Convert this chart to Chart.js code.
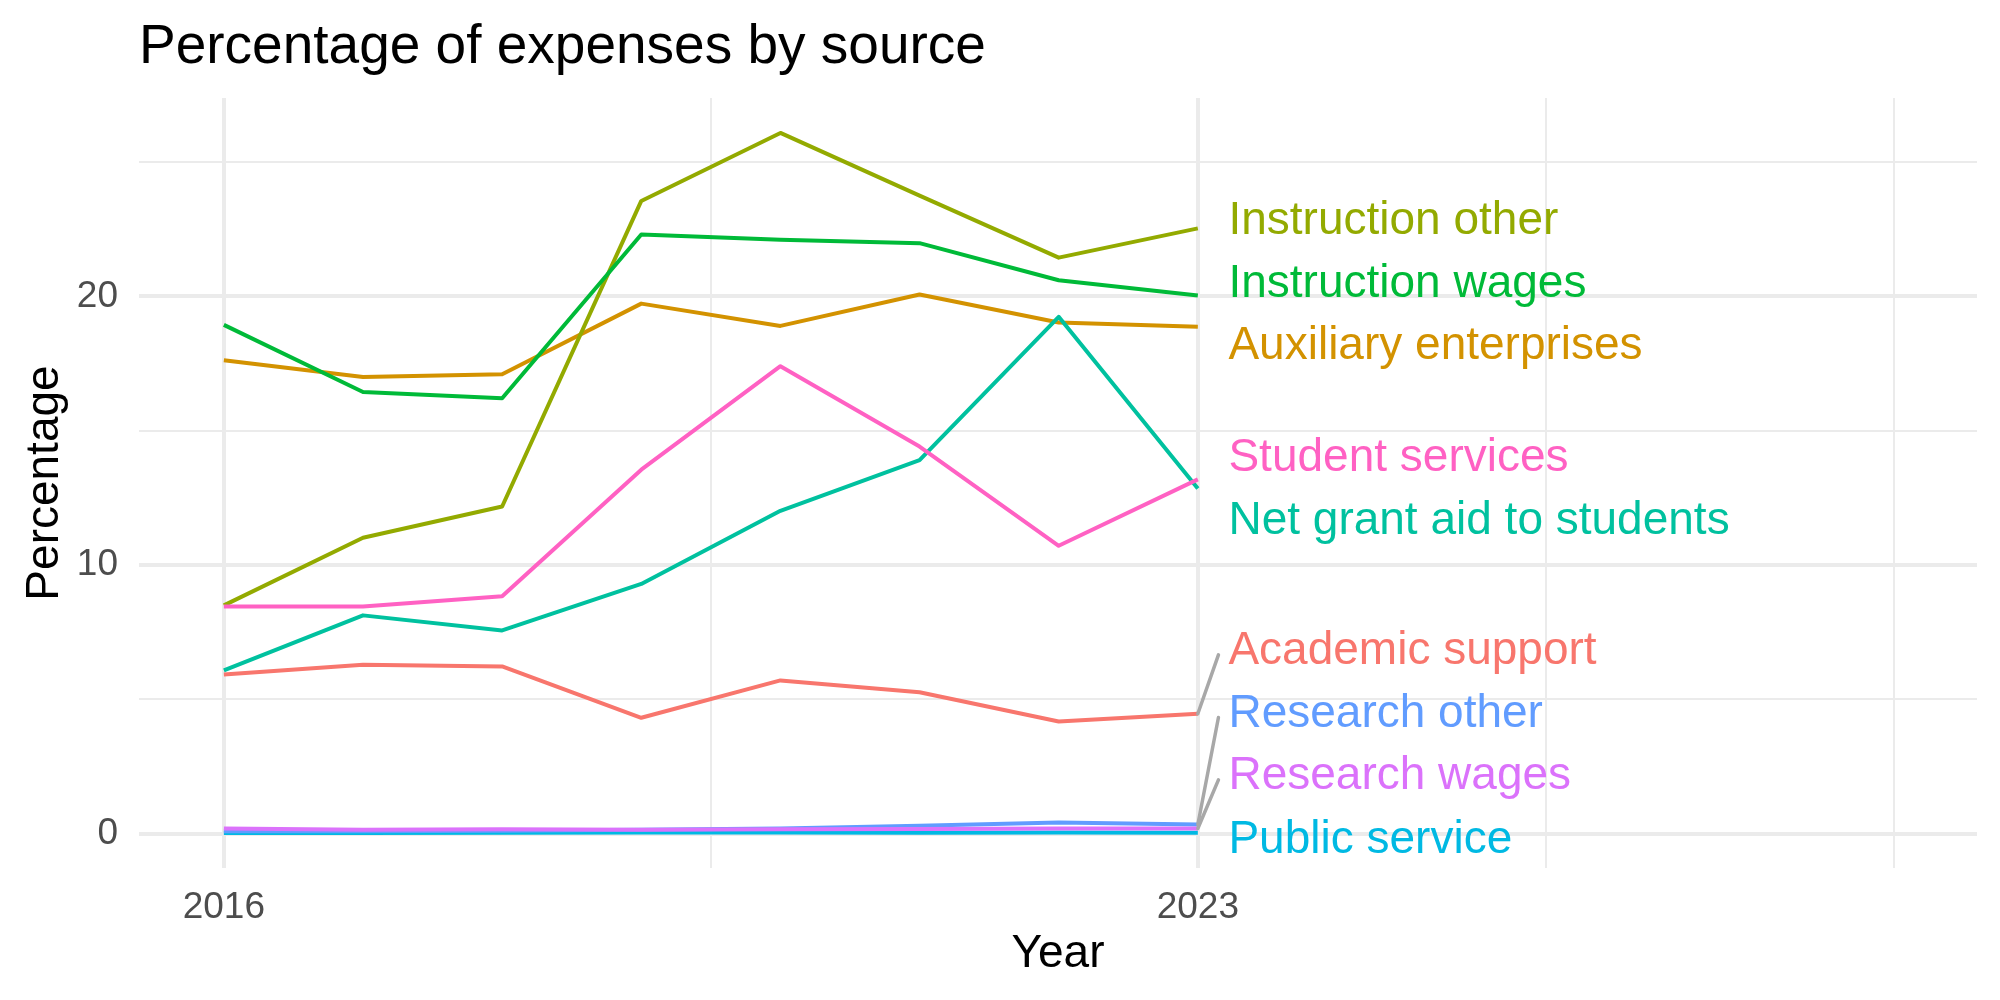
<!DOCTYPE html>
<html>
<head>
<meta charset="utf-8">
<title>Percentage of expenses by source</title>
<script src="https://cdn.jsdelivr.net/npm/chart.js@4.4.1/dist/chart.umd.min.js"></script>
<style>
    html, body { margin: 0; padding: 0; background: #ffffff; }
    #myLineChart { display: block; }
</style>
</head>
<body>
<canvas id="myLineChart" width="2000" height="1000"></canvas>
<script>

var years = [2016, 2017, 2018, 2019, 2020, 2021, 2022, 2023];

var sources = [
    'Academic support',
    'Auxiliary enterprises',
    'Instruction other',
    'Instruction wages',
    'Net grant aid to students',
    'Public service',
    'Research other',
    'Research wages',
    'Student services'
];

var academicSupport      = [5.93, 6.29, 6.23, 4.32, 5.71, 5.27, 4.18, 4.47];
var auxiliaryEnterprises = [17.62, 17.0, 17.1, 19.73, 18.9, 20.07, 19.03, 18.87];
var instructionOther     = [8.5, 11.02, 12.18, 23.55, 26.08, 23.75, 21.44, 22.53];
var instructionWages     = [18.94, 16.44, 16.21, 22.3, 22.11, 21.98, 20.6, 20.03];
var netGrantAid          = [6.08, 8.13, 7.57, 9.3, 12.02, 13.91, 19.24, 12.85];
var publicService        = [0.03, 0.03, 0.04, 0.05, 0.05, 0.04, 0.05, 0.04];
var researchOther        = [0.1, 0.1, 0.12, 0.15, 0.2, 0.3, 0.42, 0.35];
var researchWages        = [0.2, 0.15, 0.17, 0.15, 0.17, 0.18, 0.2, 0.2];
var studentServices      = [8.46, 8.46, 8.84, 13.55, 17.4, 14.41, 10.72, 13.19];

var seriesValues = [
    academicSupport, auxiliaryEnterprises, instructionOther, instructionWages,
    netGrantAid, publicService, researchOther, researchWages, studentServices
];

// where the repelled labels ended up (value axis), same order as sources
var labelY = [6.92, 18.29, 22.95, 20.6, 11.78, -0.1, 4.59, 2.27, 14.12];
var labelX = 2023.22;

var xTickValues = [2016, 2019.5, 2023, 2025.5, 2028];
var xTickLabels = ['2016', '', '2023', '', ''];
var yTickValues = [0, 5, 10, 15, 20, 25];
var yTickLabels = ['0', '', '10', '', '20', ''];

var colors = ['#F8766D', '#D39200', '#93AA00', '#00BA38', '#00C19F', '#00B9E3', '#619CFF', '#DB72FB', '#FF61C3'];

var fontFamily = '"Liberation Sans", Arial, sans-serif';
Chart.defaults.font.family = fontFamily;

var isMajor = function(ctx, labels) {
    return ctx.tick && labels[ctx.index] !== '';
};

var repelLabels = {
    id: 'repelLabels',
    afterDatasetsDraw: function(chart) {
        var ctx = chart.ctx;
        var xs = chart.scales.x;
        var ys = chart.scales.y;
        var last = years.length - 1;
        var lx = xs.getPixelForValue(labelX);

        ctx.save();
        ctx.font = '46px ' + fontFamily;
        ctx.textBaseline = 'alphabetic';
        ctx.textAlign = 'left';
        sources.forEach(function(name, i) {
            var px = xs.getPixelForValue(years[last]);
            var py = ys.getPixelForValue(seriesValues[i][last]);
            var ly = ys.getPixelForValue(labelY[i]);
            if (Math.abs(ly - py) > 40) {
                ctx.beginPath();
                ctx.strokeStyle = '#A8A8A8';
                ctx.lineWidth = 3.5;
                ctx.lineCap = 'round';
                ctx.moveTo(px, py);
                ctx.lineTo(lx - 10, ly + 7);
                ctx.stroke();
            }
            ctx.fillStyle = colors[i];
            ctx.fillText(name, lx, ly + 16.5);
        });
        ctx.restore();
    }
};

var titles = {
    id: 'titles',
    afterDraw: function(chart) {
        var ctx = chart.ctx;
        var area = chart.chartArea;
        ctx.save();
        ctx.fillStyle = '#000000';
        ctx.textBaseline = 'alphabetic';

        ctx.font = '55px ' + fontFamily;
        ctx.textAlign = 'left';
        ctx.fillText('Percentage of expenses by source', area.left, 63);

        ctx.font = '46px ' + fontFamily;
        ctx.textAlign = 'center';
        ctx.fillText('Year', (area.left + area.right) / 2, 967);

        ctx.translate(58, (area.top + area.bottom) / 2);
        ctx.rotate(-Math.PI / 2);
        ctx.fillText('Percentage', 0, 0);
        ctx.restore();
    }
};

var lineChartData = {
    datasets: sources.map(function(name, i) {
        return {
            label: name,
            data: years.map(function(yr, j) {
                return {x: yr, y: seriesValues[i][j]};
            }),
            borderColor: colors[i],
            backgroundColor: colors[i],
            borderWidth: 4,
            borderJoinStyle: 'round',
            pointRadius: 0,
            tension: 0,
            fill: false,
            order: sources.length - i // later groups on top, as in ggplot
        };
    })
};

var lineChartOptions = {
    responsive: false,
    animation: false,
    layout: {
        padding: {top: 98, right: 23, bottom: 0, left: 0}
    },
    plugins: {
        legend: {display: false},
        tooltip: {enabled: false}
    },
    scales: {
        x: {
            type: 'linear',
            min: 2015.39,
            max: 2028.6,
            afterBuildTicks: function(scale) {
                scale.ticks = xTickValues.map(function(v) { return {value: v}; });
            },
            afterFit: function(scale) {
                scale.height = 132;
            },
            ticks: {
                autoSkip: false,
                maxRotation: 0,
                padding: 18,
                color: '#4D4D4D',
                font: {size: 37},
                callback: function(value, index) {
                    return xTickLabels[index];
                }
            },
            grid: {
                color: '#EBEBEB',
                drawTicks: false,
                lineWidth: function(ctx) {
                    return isMajor(ctx, xTickLabels) ? 4 : 2;
                }
            },
            border: {display: false}
        },
        y: {
            min: -1.27,
            max: 27.38,
            afterBuildTicks: function(scale) {
                scale.ticks = yTickValues.map(function(v) { return {value: v}; });
            },
            afterFit: function(scale) {
                scale.width = 139;
            },
            ticks: {
                autoSkip: false,
                padding: 21,
                color: '#4D4D4D',
                font: {size: 37},
                callback: function(value, index) {
                    return yTickLabels[index];
                }
            },
            grid: {
                color: '#EBEBEB',
                drawTicks: false,
                lineWidth: function(ctx) {
                    return isMajor(ctx, yTickLabels) ? 4 : 2;
                }
            },
            border: {display: false}
        }
    }
};

var ctx = document.getElementById('myLineChart').getContext('2d');
new Chart(ctx, {
    type: 'line',
    data: lineChartData,
    options: lineChartOptions,
    plugins: [repelLabels, titles]
});

</script>
</body>
</html>
